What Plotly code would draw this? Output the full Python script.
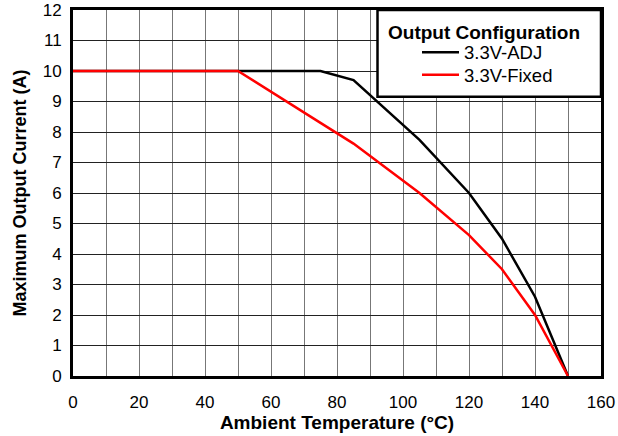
import plotly.graph_objects as go

adj_temp = [0, 75, 85, 105, 120, 130, 140, 150]
adj_current = [10, 10, 9.7, 7.74, 6.0, 4.5, 2.6, 0]
fixed_temp = [0, 50, 75, 85, 105, 120, 130, 140, 150]
fixed_current = [10, 10, 8.3, 7.62, 6.0, 4.62, 3.5, 2.0, 0]

FONT = "Liberation Sans, Arial, sans-serif"
L, R, T, B = 73, 601, 10, 376
PW, PH = R - L, B - T

fig = go.Figure()
fig.add_trace(go.Scatter(x=adj_temp, y=adj_current, mode="lines", name="3.3V-ADJ",
                         line=dict(color="black", width=2.5), legend="legend"))
fig.add_trace(go.Scatter(x=fixed_temp, y=fixed_current, mode="lines", name="3.3V-Fixed",
                         line=dict(color="#ff0000", width=2.5), legend="legend2"))

leg_common = dict(xanchor="left", yanchor="middle", bgcolor="rgba(0,0,0,0)", borderwidth=0,
                  font=dict(family=FONT, size=18.5, color="black"), itemwidth=37)

fig.update_layout(
    width=618, height=436,
    margin=dict(l=L, r=618 - R, t=T, b=436 - B),
    paper_bgcolor="white", plot_bgcolor="white",
    font=dict(family=FONT, color="black", size=17),
    showlegend=True,
    legend=dict(x=(417 - L) / PW, y=(B - 52.7) / PH, **leg_common),
    legend2=dict(x=(417 - L) / PW, y=(B - 75.3) / PH, **leg_common),
    xaxis=dict(range=[0, 160], tickvals=list(range(0, 161, 20)), showgrid=True,
               gridcolor="#777777", gridwidth=1, automargin=False,
               minor=dict(dtick=10, showgrid=True, gridcolor="#777777", gridwidth=1),
               showline=True, linecolor="black", linewidth=3, mirror=True,
               ticks="", zeroline=False, tickfont=dict(size=17), ticklabelstandoff=9,
               title=dict(text="<b>Ambient Temperature (°C)</b>", font=dict(size=19), standoff=2)),
    yaxis=dict(range=[0, 12], dtick=1, showgrid=True, gridcolor="#222222", gridwidth=1,
               automargin=False,
               showline=True, linecolor="black", linewidth=3, mirror=True,
               ticks="", zeroline=False, tickfont=dict(size=17), ticklabelstandoff=5,
               title=dict(text="<b>Maximum Output Current (A)</b>", font=dict(size=18), standoff=12)),
    shapes=[dict(type="rect", xref="paper", yref="paper",
                 x0=(377.5 - L) / PW, x1=1, y0=(B - 96.7) / PH, y1=1,
                 fillcolor="white", line=dict(color="black", width=2.5), layer="above")],
    annotations=[dict(text="<b>Output Configuration</b>", xref="paper", yref="paper",
                      x=(484 - L) / PW, y=(B - 33) / PH, xanchor="center", yanchor="middle",
                      showarrow=False, font=dict(family=FONT, size=19, color="black"))],
)

fig.write_html("out.html", config={"displayModeBar": False},
               post_script="document.body.style.margin='0';")
